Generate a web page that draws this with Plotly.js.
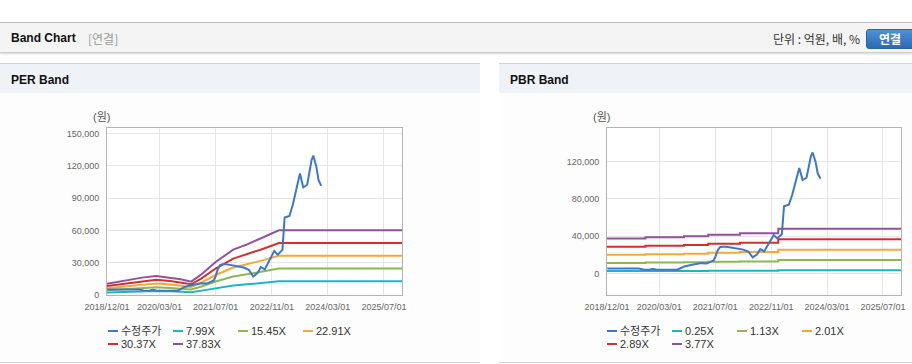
<!DOCTYPE html>
<html>
<head>
<meta charset="utf-8">
<script src="https://cdn.plot.ly/plotly-3.0.1.min.js"></script>
<style>
html,body{margin:0;padding:0;background:#fff;}
body{width:912px;height:364px;position:relative;overflow:hidden;font-family:"Liberation Sans","Noto Sans CJK KR",sans-serif;}
#topbar{position:absolute;left:0;top:22px;width:912px;height:29px;background:#f4f4f4;border-top:1px solid #bcbcbc;border-bottom:1px solid #cdcdcd;box-shadow:0 1px 2px rgba(0,0,0,0.18);}
#topbar .title{position:absolute;left:11px;top:8px;font-size:12px;font-weight:bold;color:#111;}
#topbar .sub{position:absolute;left:88px;top:7px;font-size:12px;color:#9a9a9a;font-family:"Noto Sans CJK KR",sans-serif;line-height:17px;}
#topbar .unit{position:absolute;right:52px;top:7px;font-size:12px;color:#333;font-family:"Noto Sans CJK KR",sans-serif;line-height:17px;}
#topbar .btn{position:absolute;left:866px;top:6px;width:52px;height:18px;border-radius:3px;background:linear-gradient(#4f91d8,#2b6ab3);border:1px solid #2a62a3;color:#fff;font-weight:bold;font-size:12px;line-height:18px;text-align:center;text-indent:-6px;font-family:"Noto Sans CJK KR",sans-serif;}
.panel{position:absolute;top:63px;height:298px;background:#fdfdfd;border-top:1px solid #d4d4d4;border-bottom:1px solid #d6d6d6;}
.panel .hd{height:29px;background:#eff2f7;font-size:12px;font-weight:bold;color:#111;line-height:33px;padding-left:11px;}
.chart{position:absolute;top:29px;left:0;height:269px;}
</style>
</head>
<body>
<div id="topbar">
  <span class="title">Band Chart</span>
  <span class="sub">[연결]</span>
  <span class="unit">단위 : 억원, 배, %</span>
  <div class="btn">연결</div>
</div>
<div class="panel" style="left:0;width:480px;">
  <div class="hd">PER Band</div>
  <div id="per" class="chart" style="width:480px;"></div>
</div>
<div class="panel" style="left:499px;width:413px;">
  <div class="hd">PBR Band</div>
  <div id="pbr" class="chart" style="width:413px;"></div>
</div>
<script>
// ---- shared price series (수정주가) ----
const priceDates = ['2018-12-03','2019-03-01','2019-06-03','2019-09-02','2019-10-15','2019-12-02','2020-01-02','2020-02-03','2020-05-04','2020-08-03','2020-09-01','2020-10-05','2020-12-01','2021-02-01','2021-03-02','2021-04-15','2021-06-15','2021-07-01','2021-07-20','2021-08-10','2021-09-15','2021-11-15','2021-12-15','2022-03-02','2022-04-15','2022-05-23','2022-07-01','2022-07-28','2022-09-01','2022-10-11','2022-11-22','2022-12-22','2023-01-18','2023-02-01','2023-02-20','2023-04-03','2023-05-02','2023-06-07','2023-07-03','2023-08-01','2023-09-04','2023-10-12','2023-10-27','2023-11-21','2023-12-11','2024-01-04'];
const priceValues = [5200,5300,5100,5200,4300,4000,4800,4100,3900,4000,5500,7500,9000,10500,11000,10600,13500,17500,24000,28000,28800,27800,27000,25500,23500,17200,20500,26000,23800,32000,41000,37500,40000,42000,72000,73500,84000,99500,113000,100000,102500,125500,129500,120000,107000,101500];

// ---- PER band ----
const perDates = ['2018-12-01','2019-06-01','2019-10-01','2020-02-01','2020-06-01','2020-09-01','2020-12-01','2021-03-01','2021-07-01','2021-12-01','2022-04-01','2022-08-01','2023-01-01','2025-12-05'];
const perBandNames = ['7.99X','15.45X','22.91X','30.37X','37.83X'];
const per799  = [2229,2940,3412,3731,3404,3084,2621,4075,6480,8901,9948,11146,12704,12704];
const per1545 = [4311,5686,6597,7215,6582,5964,5068,7880,12530,17211,19235,21553,24566,24566];
const per2291 = [6392,8431,9783,10699,9760,8843,7514,11684,18580,25522,28523,31959,36427,36427];
const per3037 = [8473,11176,12968,14183,12938,11723,9961,15489,24630,33832,37811,42366,48288,48288];
const per3783 = [10555,13921,16153,17667,16116,14602,12408,19293,30680,42143,47098,52773,60150,60150];

// ---- PBR band ----
const pbrDates = ['2018-12-01','2019-11-01','2020-10-01','2021-05-01','2022-02-01','2023-01-01','2025-12-05'];
const pbrBandNames = ['0.25X','1.13X','2.01X','2.89X','3.77X'];
const pbr025 = [2474,2560,2631,2750,2845,3500,3500];
const pbr113 = [11180,11572,11893,12430,12858,14400,14400];
const pbr201 = [19887,20584,21155,22110,22872,25400,25400];
const pbr289 = [28594,29596,30417,31790,32885,36700,36700];
const pbr377 = [37300,38609,39679,41470,42899,47800,47800];

// ---- axis ticks ----
const xTickVals = ['2018-12-01','2020-03-01','2021-07-01','2022-11-01','2024-03-01','2025-07-01'];
const xTickText = ['2018/12/01','2020/03/01','2021/07/01','2022/11/01','2024/03/01','2025/07/01'];
const priceName = '수정주가';
const colors = ['#3b78c9','#1db4c8','#8db84f','#f2a93b','#d42f2a','#93509b'];

const FONT = '"Liberation Sans","Noto Sans CJK KR",sans-serif';

function buildTraces(dates, bands, names, shape) {
  const traces = [];
  bands.forEach((vals, i) => {
    const lastInRow = (i === 2 || i === 4);
    traces.push({
      x: dates, y: vals, name: names[i], type: 'scatter', mode: 'lines',
      line: {color: colors[i + 1], width: 2, shape: shape},
      legend: i < 3 ? 'legend' : 'legend2', legendrank: i + 2,
      legendwidth: lastInRow ? 50 : 20, hoverinfo: 'skip'
    });
  });
  traces.push({
    x: priceDates, y: priceValues, name: priceName, type: 'scatter', mode: 'lines',
    line: {color: colors[0], width: 2}, legend: 'legend', legendrank: 1,
    legendwidth: 20, hoverinfo: 'skip'
  });
  return traces;
}

function buildLayout(width, l, r, yRange, dtick) {
  const pw = width - l - r;
  const ph = 167;
  const legX = (81 - l) / pw;
  const leg = (y) => ({
    orientation: 'h', xref: 'paper', x: legX, xanchor: 'left',
    yref: 'paper', y: y, yanchor: 'middle',
    entrywidth: 20, entrywidthmode: 'pixels', traceorder: 'normal',
    font: {family: FONT, size: 11, color: '#333'}, bgcolor: 'rgba(0,0,0,0)', borderwidth: 0
  });
  return {
    width: width, height: 269,
    margin: {l: l, r: r, t: 35, b: 67, pad: 0, autoexpand: false},
    paper_bgcolor: 'rgba(0,0,0,0)', plot_bgcolor: '#ffffff',
    font: {family: FONT, size: 9, color: '#666'},
    showlegend: true,
    legend: leg(-(238 - 202) / ph),
    legend2: leg(-(251 - 202) / ph),
    xaxis: {
      type: 'date', range: ['2018-12-01', '2025-12-05'],
      tickmode: 'array', tickvals: xTickVals, ticktext: xTickText,
      showgrid: true, gridcolor: '#e6e6e6', gridwidth: 1,
      showline: true, linecolor: '#b4b4b4', linewidth: 1, mirror: true,
      ticks: '', zeroline: false, fixedrange: true, ticklabelstandoff: 3,
      tickfont: {family: FONT, size: 9, color: '#666'}
    },
    yaxis: {
      range: yRange, tick0: 0, dtick: dtick, tickformat: ',d',
      showgrid: true, gridcolor: '#e6e6e6', gridwidth: 1,
      showline: true, linecolor: '#b4b4b4', linewidth: 1, mirror: true,
      ticks: '', zeroline: false, fixedrange: true, ticklabelstandoff: 5,
      tickfont: {family: FONT, size: 9, color: '#666'}
    },
    annotations: [{
      text: '(원)', xref: 'paper', yref: 'paper', x: 0, y: 1,
      xanchor: 'center', yanchor: 'bottom', xshift: -6, yshift: 3,
      showarrow: false, font: {family: FONT, size: 11, color: '#555'}
    }]
  };
}

function shrinkLegendLines(gd) {
  gd.querySelectorAll('.legendlines path, path.legendlines').forEach(p => p.setAttribute('d', 'M27,0h10'));
}

const cfg = {displayModeBar: false, staticPlot: true};
const perBands = [per799, per1545, per2291, per3037, per3783];
const pbrBands = [pbr025, pbr113, pbr201, pbr289, pbr377];

Plotly.newPlot('per', buildTraces(perDates, perBands, perBandNames, 'linear'),
  buildLayout(480, 107, 78, [0, 155300], 30000), cfg).then(shrinkLegendLines);
Plotly.newPlot('pbr', buildTraces(pbrDates, pbrBands, pbrBandNames, 'hv'),
  buildLayout(413, 108, 11, [-23150, 155800], 40000), cfg).then(shrinkLegendLines);
</script>
</body>
</html>
